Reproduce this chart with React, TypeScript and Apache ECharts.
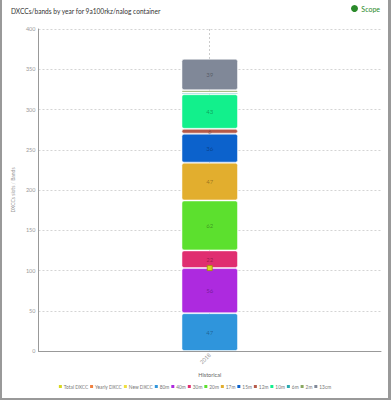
import React, { useEffect, useRef } from "react";
import * as echarts from "echarts";

const categories = ["2018"];
const bandNames = ["80m", "40m", "30m", "20m", "17m", "15m", "12m", "10m", "6m", "2m", "13cm"];
const bandValues = [47, 56, 22, 62, 47, 36, 6, 43, 2, 3, 39];
const bandColors = ["#2f95dc", "#ad2adf", "#e02e70", "#5ce02e", "#e2ae2e", "#0c62cc", "#b65a48", "#12f08c", "#2aaab0", "#8aa860", "#808898"];
const totalDxcc = [103];
const yearlyDxcc: (number | null)[] = [null];
const newDxcc: (number | null)[] = [null];
const lineNames = ["Total DXCC", "Yearly DXCC", "New DXCC"];
const lineColors = ["#d8d820", "#f08040", "#f0e040"];
const yTicks = [0, 50, 100, 150, 200, 250, 300, 350, 400];

export default function App() {
  const ref = useRef<HTMLDivElement>(null);
  useEffect(() => {
    if (!ref.current) return;
    const chart = echarts.init(ref.current, undefined, { renderer: "svg" });
    const font = "Lato";
    const barSeries = bandNames.map((n, i) => ({
      name: n,
      type: "bar",
      stack: "bands",
      barWidth: "16.5%",
      z: 2,
      data: [bandValues[i]],
      itemStyle: {
        color: bandColors[i],
        borderColor: "rgba(255,255,255,0.5)",
        borderWidth: 1,
        borderRadius: 2,
      },
      label: {
        show: bandValues[i] >= 5,
        position: "inside",
        fontSize: 6,
        fontFamily: font,
        color: "rgba(0,0,0,0.35)",
      },
    }));
    const lineData = [totalDxcc, yearlyDxcc, newDxcc];
    const lineSeries = lineNames.map((n, i) => ({
      name: n,
      type: "line",
      z: 5,
      data: lineData[i],
      symbol: "rect",
      symbolSize: 5,
      itemStyle: { color: lineColors[i], borderColor: "#9a9000", borderWidth: 0.8 },
      lineStyle: { color: lineColors[i] },
    }));
    const guide = {
      name: "guide",
      type: "line",
      z: 0,
      data: [],
      markLine: {
        silent: true,
        symbol: ["none", "none"],
        label: { show: false },
        lineStyle: { color: "#ccc", type: [2, 2], width: 1 },
        data: [{ xAxis: categories[0] }],
        z: 0,
      },
    };
    chart.setOption({
      animation: false,
      textStyle: { fontFamily: font },
      title: {
        text: "DXCCs/bands by year for 9a100rkz/nalog container",
        left: 4,
        top: 2,
        textStyle: { fontSize: 6.6, fontWeight: "normal", color: "#333", fontFamily: font },
      },
      graphic: [
        { type: "circle", right: 30, top: 5, shape: { r: 3.5 }, style: { fill: "#2a8a2a" } },
        { type: "text", right: 8, top: 5, style: { text: "Scope", fill: "#2a8a2a", fontSize: 7, fontFamily: font } },
      ],
      legend: {
        data: [...lineNames, ...bandNames],
        bottom: 4,
        left: "center",
        icon: "rect",
        itemWidth: 3,
        itemHeight: 3,
        itemGap: 2,
        itemStyle: { borderWidth: 0 },
        textStyle: { fontSize: 4.8, color: "#777", fontFamily: font, padding: [0, 0, 0, -3] },
      },
      grid: { left: 27, right: 7, top: 29, bottom: 47 },
      xAxis: {
        type: "category",
        data: categories,
        name: "Historical",
        nameLocation: "middle",
        nameGap: 15,
        nameTextStyle: { fontSize: 5.5, color: "#666", fontFamily: font },
        axisLine: { lineStyle: { color: "#999" } },
        axisTick: { alignWithLabel: true, length: 3, lineStyle: { color: "#999" } },
        axisLabel: { rotate: 45, fontSize: 5.5, color: "#999", margin: 3, fontFamily: font },
      },
      yAxis: {
        type: "value",
        min: 0,
        max: 400,
        interval: 50,
        name: "DXCCs slots / Bands",
        nameLocation: "middle",
        nameGap: 11,
        nameTextStyle: { fontSize: 5, color: "#999", fontFamily: font },
        axisLine: { show: true, lineStyle: { color: "#999" } },
        axisTick: { show: false },
        axisLabel: { fontSize: 5.5, color: "#999", margin: 3, fontFamily: font, formatter: (v: number) => (yTicks.includes(v) ? String(v) : "") },
        splitLine: { lineStyle: { color: "#d4d4d4", type: [2, 2] } },
      },
      series: [guide, ...barSeries, ...lineSeries],
    });
    return () => chart.dispose();
  }, []);
  return (
    <div
      style={{
        position: "fixed",
        left: 0,
        top: 0,
        width: 391,
        height: 400,
        boxSizing: "border-box",
        borderLeft: "2px solid #999",
        borderRight: "3px solid #999",
        borderBottom: "2px solid #999",
        background: "#fff",
      }}
    >
      <div ref={ref} style={{ width: 386, height: 398 }} />
    </div>
  );
}
